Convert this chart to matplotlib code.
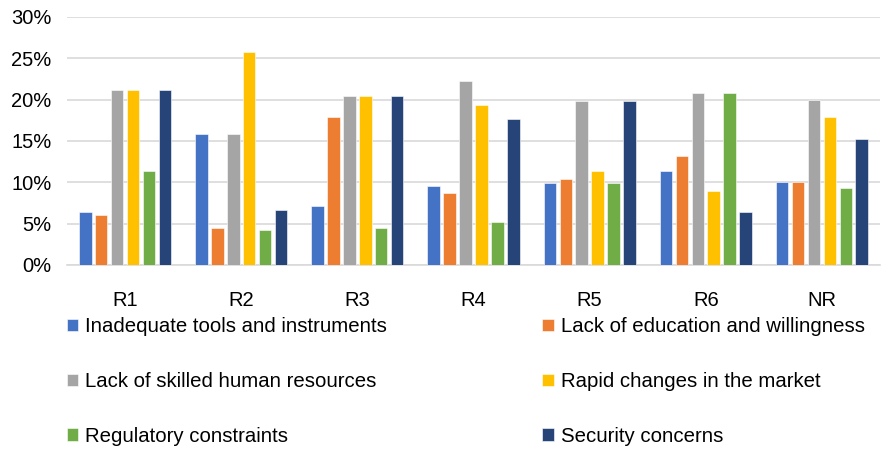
import matplotlib
matplotlib.use("Agg")
import matplotlib.pyplot as plt
import numpy as np
from matplotlib.ticker import FuncFormatter

plt.rcParams['font.family'] = ['Liberation Sans', 'DejaVu Sans']

categories = ["R1", "R2", "R3", "R4", "R5", "R6", "NR"]
series_names = [
    "Inadequate tools and instruments",
    "Lack of education and willingness",
    "Lack of skilled human resources",
    "Rapid changes in the market",
    "Regulatory constraints",
    "Security concerns",
]
inadequate_tools = [6.4, 15.9, 7.1, 9.5, 9.9, 11.4, 10.1]
lack_education = [6.1, 4.5, 17.9, 8.7, 10.4, 13.2, 10.1]
lack_skilled = [21.2, 15.9, 20.4, 22.3, 19.8, 20.8, 20.0]
rapid_changes = [21.2, 25.8, 20.4, 19.4, 11.4, 8.9, 17.9]
regulatory = [11.4, 4.25, 4.5, 5.2, 9.9, 20.8, 9.3]
security = [21.2, 6.7, 20.4, 17.7, 19.8, 6.4, 15.3]
yticks = [0, 5, 10, 15, 20, 25, 30]

series = [inadequate_tools, lack_education, lack_skilled, rapid_changes, regulatory, security]
colors = ["#4472C4", "#ED7D31", "#A5A5A5", "#FFC000", "#70AD47", "#264478"]

fig = plt.figure(figsize=(8.84, 4.49), dpi=100)
ax = fig.add_axes([67/884, 1 - 265/449, (880-67)/884, (265-17)/449])

x = np.arange(len(categories))
step = 0.137
width = 0.108
handles = []
for i, (vals, c) in enumerate(zip(series, colors)):
    h = ax.bar(x + (i - 2.5) * step, vals, width=width, color=c, edgecolor="white",
               linewidth=0.4, zorder=3, label=series_names[i])
    handles.append(h)

ax.set_xlim(-0.5, len(categories) - 0.5)
ax.set_ylim(0, 30)
ax.set_yticks(yticks)
ax.yaxis.set_major_formatter(FuncFormatter(lambda v, p: f"{int(v)}%"))
ax.set_xticks(x)
ax.set_xticklabels(categories)
ax.grid(axis="y", color="#d9d9d9", linewidth=1.2, zorder=0)
for s in ["top", "right", "left"]:
    ax.spines[s].set_visible(False)
ax.spines["bottom"].set_color("#d9d9d9")
ax.spines["bottom"].set_linewidth(1.2)
ax.tick_params(axis="both", length=0, labelsize=14.5, colors="black")
ax.tick_params(axis="x", pad=19)
ax.tick_params(axis="y", pad=11)

order = [0, 2, 4, 1, 3, 5]
leg = fig.legend([handles[i] for i in order], [series_names[i] for i in order],
                 ncol=2, loc="upper left", bbox_to_anchor=(67/884, 1 - 317/449),
                 frameon=False, fontsize=14.7, handlelength=0.55, handleheight=0.55,
                 handletextpad=0.35, labelspacing=1.76, columnspacing=7.6,
                 borderaxespad=0, borderpad=0)

fig.savefig("out.png", dpi=100)
